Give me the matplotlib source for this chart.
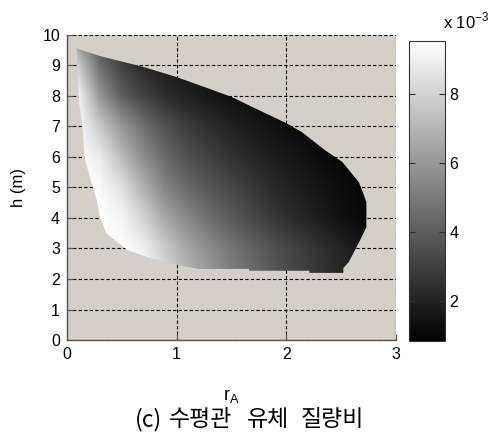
import numpy as np
import matplotlib
matplotlib.use("Agg")
import matplotlib.pyplot as plt
from matplotlib.patches import Polygon
from matplotlib.colors import Normalize

# Table nodes for the mass ratio (evenly spaced)
r_nodes = [0.1, 0.3, 0.5, 0.7, 0.9, 1.1, 1.3, 1.5, 1.7, 1.9, 2.1, 2.3, 2.5, 2.7, 2.9]
h_nodes = [2, 3, 4, 5, 6, 7, 8, 9, 10]

# Mass ratio (x 1e-3); one row per h node, one column per r node
ratio_h2 = [9.5, 9.5, 9.5, 9.5, 8.3, 7.1, 6.1, 5.2, 4.5, 3.8, 3.2, 2.7, 2.2, 1.9, 1.7]
ratio_h3 = [9.5, 9.5, 9.5, 9.0, 7.66, 6.47, 5.62, 4.87, 4.19, 3.57, 3.06, 2.55, 2.04, 1.6, 1.4]
ratio_h4 = [9.5, 9.5, 9.19, 8.0, 6.47, 5.45, 4.59, 3.91, 3.30, 2.72, 2.21, 1.80, 1.43, 1.12, 1.0]
ratio_h5 = [9.5, 9.36, 8.51, 6.81, 5.28, 4.42, 3.74, 3.23, 2.72, 2.21, 1.87, 1.53, 1.26, 1.02, 0.95]
ratio_h6 = [9.4, 8.85, 7.15, 5.62, 4.42, 3.57, 3.06, 2.55, 2.14, 1.80, 1.53, 1.26, 1.05, 0.95, 0.9]
ratio_h7 = [9.4, 7.66, 5.96, 4.59, 3.57, 2.89, 2.38, 1.94, 1.67, 1.39, 1.19, 1.05, 0.95, 0.9, 0.9]
ratio_h8 = [9.2, 5.96, 4.08, 3.06, 2.38, 1.94, 1.60, 1.36, 1.2, 1.1, 1.0, 0.95, 0.9, 0.9, 0.9]
ratio_h9 = [7.8, 4.59, 3.06, 2.21, 1.8, 1.5, 1.3, 1.15, 1.05, 1.0, 0.95, 0.9, 0.9, 0.9, 0.9]
ratio_h10 = [5.5, 3.3, 2.3, 1.8, 1.5, 1.3, 1.15, 1.05, 1.0, 0.95, 0.9, 0.9, 0.9, 0.9, 0.9]

# Outline of the feasible (r_A, h) region
edge_r = [0.09, 0.14, 0.30, 0.70, 1.00, 1.28, 1.50, 1.69, 2.00, 2.14, 2.35, 2.51,
          2.66, 2.69, 2.73, 2.73, 2.66, 2.57, 2.52, 2.52, 2.21, 2.21, 1.66, 1.66,
          1.20, 1.00, 0.73, 0.55, 0.36, 0.30, 0.27, 0.22, 0.16, 0.14, 0.11, 0.09]
edge_h = [9.57, 9.50, 9.31, 8.95, 8.62, 8.26, 7.97, 7.64, 7.11, 6.82, 6.23, 5.84,
          5.18, 4.92, 4.52, 3.70, 3.18, 2.56, 2.36, 2.20, 2.20, 2.27, 2.27, 2.33,
          2.33, 2.46, 2.72, 2.95, 3.50, 4.03, 4.60, 5.20, 5.97, 7.05, 7.80, 9.40]

x_ticks = [0, 1, 2, 3]
y_ticks = [0, 1, 2, 3, 4, 5, 6, 7, 8, 9, 10]
cbar_ticks = [2, 4, 6, 8]
v_min, v_max = 0.85, 9.53
caption_words = ['(c)', '수평관', '유체', '질량비']
caption_x = [135, 169, 247, 301]

plt.rcParams['font.family'] = ['Liberation Sans', 'DejaVu Sans']

fig = plt.figure(figsize=(4.96, 4.34), dpi=100)
ax = fig.add_axes([67 / 496, 94 / 434, 329 / 496, 305 / 434])
cax = fig.add_axes([409 / 496, 93 / 434, 36 / 496, 300 / 434])

ax.set_facecolor('#d4d0c8')
ratio = np.array([ratio_h2, ratio_h3, ratio_h4, ratio_h5, ratio_h6,
                  ratio_h7, ratio_h8, ratio_h9, ratio_h10])
dr = r_nodes[1] - r_nodes[0]
dh = h_nodes[1] - h_nodes[0]
norm = Normalize(vmin=v_min, vmax=v_max)
img = ax.imshow(ratio, origin='lower', cmap='gray', norm=norm,
                interpolation='bilinear', aspect='auto',
                extent=[r_nodes[0] - dr / 2, r_nodes[-1] + dr / 2,
                        h_nodes[0] - dh / 2, h_nodes[-1] + dh / 2],
                zorder=1)
outline = Polygon(np.column_stack([edge_r, edge_h]), closed=True,
                  transform=ax.transData, facecolor='none', edgecolor='none')
ax.add_patch(outline)
img.set_clip_path(outline)

ax.set_xlim(0, 3)
ax.set_ylim(0, 10)
ax.set_xticks(x_ticks)
ax.set_yticks(y_ticks)
ax.set_axisbelow(True)
ax.grid(True, color='black', linestyle=(0, (3, 2)), linewidth=0.8)
for s in ('top', 'right'):
    ax.spines[s].set_visible(False)
for s in ('left', 'bottom'):
    ax.spines[s].set_color('#555555')
    ax.spines[s].set_linewidth(1.0)
    ax.spines[s].set_zorder(3)
ax.tick_params(direction='in', length=4, color='#555555', labelsize=11.5,
               pad=5)
ax.set_xlabel(r'$\mathregular{r_A}$', fontsize=13, labelpad=18)
ax.set_ylabel('h (m)', fontsize=12, labelpad=12)

cb = fig.colorbar(img, cax=cax, ticks=cbar_ticks)
cb.outline.set_linewidth(0.8)
cb.outline.set_edgecolor('#333333')
cax.tick_params(direction='in', length=4, labelsize=11.5, left=True, right=True,
                color='#333333', pad=3)
fig.text(443 / 496, 1 - 28 / 434, r'x 10$^{\mathregular{-3}}$', fontsize=12,
         ha='left', va='baseline')

for word, xp in zip(caption_words, caption_x):
    fig.text(xp / 496, 1 - 420 / 434, word, fontsize=16.5, ha='left',
             va='center', family=['Noto Sans CJK KR', 'DejaVu Sans'])

fig.savefig('out.png', dpi=100)
